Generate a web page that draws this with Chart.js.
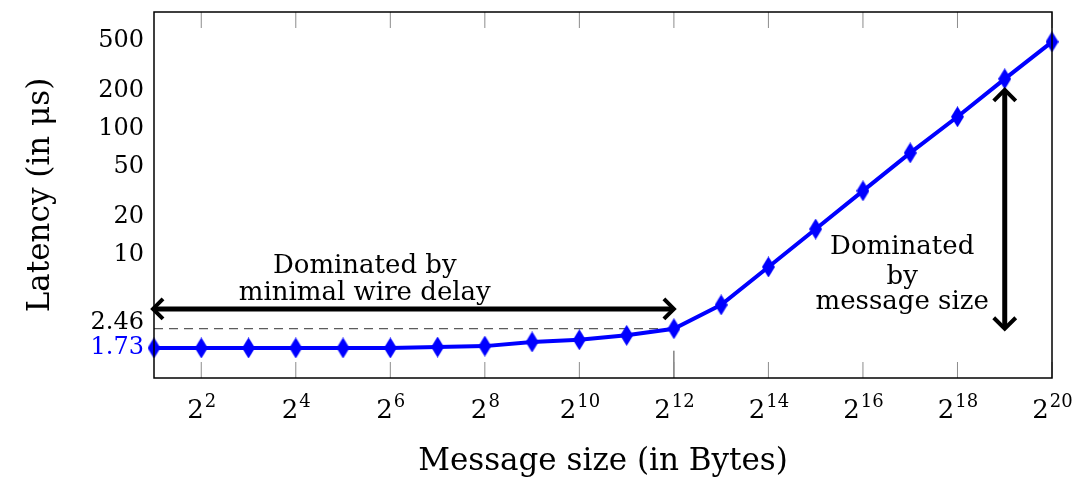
<!DOCTYPE html>
<html>
<head>
<meta charset="utf-8">
<script src="https://cdn.jsdelivr.net/npm/chart.js@4.4.0/dist/chart.umd.min.js"></script>
<style>
    html, body { margin: 0; padding: 0; background: #fff; }
    #wrap { width: 1086px; height: 481px; }
</style>
</head>
<body>
<div id="wrap"><canvas id="latencyChart" width="1086" height="481"></canvas></div>
<script>
// Message size is 2^n bytes, n below
const sizeExponents = [1, 2, 3, 4, 5, 6, 7, 8, 9, 10, 11, 12, 13, 14, 15, 16, 17, 18, 19, 20];
// Latency in microseconds
const latencyUs = [1.73, 1.73, 1.73, 1.73, 1.73, 1.73, 1.76, 1.79, 1.93, 2.01, 2.18, 2.46,
                   3.8, 7.6, 15.2, 30.5, 61, 118, 236, 464];
const xTickExponents = [2, 4, 6, 8, 10, 12, 14, 16, 18, 20];
const yTickValues = [1.73, 2.46, 10, 20, 50, 100, 200, 500];

const SERIF = '"DejaVu Serif", "Liberation Serif", serif';
const BLUE = '#0000ff';

// tall diamond marker
function makeDiamond(w, h) {
    const c = document.createElement('canvas');
    c.width = w; c.height = h;
    const g = c.getContext('2d');
    g.fillStyle = BLUE;
    g.beginPath();
    g.moveTo(w / 2, 0);
    g.lineTo(w, h / 2);
    g.lineTo(w / 2, h);
    g.lineTo(0, h / 2);
    g.closePath();
    g.fill();
    return c;
}

function arrowHead(ctx, x, y, dx, dy, len, half) {
    // chevron pointing in direction (dx, dy)
    const px = -dy, py = dx;
    ctx.beginPath();
    ctx.moveTo(x - dx * len + px * half, y - dy * len + py * half);
    ctx.lineTo(x, y);
    ctx.lineTo(x - dx * len - px * half, y - dy * len - py * half);
    ctx.stroke();
}

const overlay = {
    id: 'overlay',
    beforeDatasetsDraw(chart) {
        const { ctx, chartArea: a, scales: { x, y } } = chart;
        const yRef = y.getPixelForValue(2.46);
        const xRef = x.getPixelForValue(12);
        ctx.save();
        ctx.strokeStyle = '#333';
        ctx.lineWidth = 1;
        ctx.setLineDash([9, 6]);
        ctx.beginPath();
        ctx.moveTo(a.left, yRef);
        ctx.lineTo(xRef, yRef);
        ctx.stroke();
        ctx.setLineDash([]);
        ctx.strokeStyle = '#444';
        ctx.beginPath();
        ctx.moveTo(xRef, yRef + 22);
        ctx.lineTo(xRef, a.bottom);
        ctx.stroke();

        // x tick marks inside, top and bottom
        ctx.strokeStyle = '#8c8c8c';
        xTickExponents.forEach(n => {
            const px = x.getPixelForValue(n);
            ctx.beginPath();
            ctx.moveTo(px, a.bottom);
            ctx.lineTo(px, a.bottom - 16);
            ctx.moveTo(px, a.top);
            ctx.lineTo(px, a.top + 16);
            ctx.stroke();
        });
        ctx.restore();
    },
    afterDatasetsDraw(chart) {
        const { ctx, chartArea: a, scales: { x, y } } = chart;
        ctx.save();

        // frame
        ctx.strokeStyle = '#000';
        ctx.lineWidth = 1.5;
        ctx.strokeRect(a.left, a.top, a.right - a.left, a.bottom - a.top);

        // y tick labels (2.46 lifted so it clears 1.73)
        ctx.font = '24px ' + SERIF;
        ctx.textAlign = 'right';
        ctx.textBaseline = 'middle';
        yTickValues.forEach(v => {
            const shift = v === 2.46 ? -6 : (v === 1.73 ? 0 : 3);
            ctx.fillStyle = v === 1.73 ? BLUE : '#000';
            ctx.fillText(String(v), a.left - 10, y.getPixelForValue(v) + shift);
        });

        // x tick labels 2^n
        ctx.fillStyle = '#000';
        ctx.textBaseline = 'alphabetic';
        xTickExponents.forEach(n => {
            const px = x.getPixelForValue(n);
            ctx.font = '26px ' + SERIF;
            const wb = ctx.measureText('2').width;
            ctx.font = '18px ' + SERIF;
            const we = ctx.measureText(String(n)).width;
            const left = px - (wb + we) / 2;
            ctx.font = '26px ' + SERIF;
            ctx.textAlign = 'left';
            ctx.fillText('2', left, 418);
            ctx.font = '18px ' + SERIF;
            ctx.fillText(String(n), left + wb + 1, 407);
        });

        // arrows
        ctx.strokeStyle = '#000';
        ctx.lineWidth = 5;
        ctx.lineJoin = 'miter';
        ctx.lineCap = 'butt';
        const ha = y.getPixelForValue(3.53);
        const hx1 = x.getPixelForValue(1) - 1, hx2 = x.getPixelForValue(12);
        ctx.beginPath();
        ctx.moveTo(hx1 + 2, ha);
        ctx.lineTo(hx2 - 2, ha);
        ctx.stroke();
        ctx.lineWidth = 4;
        arrowHead(ctx, hx1, ha, -1, 0, 10, 10);
        arrowHead(ctx, hx2, ha, 1, 0, 10, 10);

        const vx = x.getPixelForValue(19);
        const vy1 = y.getPixelForValue(193), vy2 = y.getPixelForValue(2.46);
        ctx.lineWidth = 5;
        ctx.beginPath();
        ctx.moveTo(vx, vy1 + 2);
        ctx.lineTo(vx, vy2 - 2);
        ctx.stroke();
        ctx.lineWidth = 4;
        arrowHead(ctx, vx, vy1, 0, -1, 11, 11);
        arrowHead(ctx, vx, vy2, 0, 1, 11, 11);

        // annotation texts
        ctx.fillStyle = '#000';
        ctx.font = '26px ' + SERIF;
        ctx.textAlign = 'center';
        ctx.textBaseline = 'middle';
        ctx.fillText('Dominated by', x.getPixelForValue(5.46), y.getPixelForValue(7.74));
        ctx.fillText('minimal wire delay', x.getPixelForValue(5.46), y.getPixelForValue(4.73));
        ctx.fillText('Dominated', x.getPixelForValue(16.83), y.getPixelForValue(10.8));
        ctx.fillText('by', x.getPixelForValue(16.83), y.getPixelForValue(6.33));
        ctx.fillText('message size', x.getPixelForValue(16.83), y.getPixelForValue(4.01));
        ctx.restore();
    }
};

const ctx = document.getElementById('latencyChart').getContext('2d');
new Chart(ctx, {
    type: 'line',
    data: {
        datasets: [{
            data: sizeExponents.map((n, i) => ({ x: n, y: latencyUs[i] })),
            borderColor: BLUE,
            backgroundColor: BLUE,
            borderWidth: 4,
            pointStyle: makeDiamond(13, 21),
            pointRadius: 8,
            tension: 0,
            clip: false
        }]
    },
    options: {
        responsive: false,
        animation: false,
        devicePixelRatio: 1,
        layout: { padding: { left: 0, top: 12, right: 34, bottom: 0 } },
        plugins: {
            legend: { display: false },
            tooltip: { enabled: false }
        },
        scales: {
            x: {
                type: 'linear',
                min: 1,
                max: 20,
                grid: { display: false, drawTicks: false },
                border: { display: false },
                ticks: { display: false },
                afterFit(scale) {
                    scale.height = 103;
                    scale.paddingLeft = 0;
                    scale.paddingRight = 0;
                },
                title: {
                    display: true,
                    text: 'Message size (in Bytes)',
                    color: '#000',
                    font: { family: SERIF, size: 31 },
                    padding: { top: 0, bottom: 0 }
                }
            },
            y: {
                type: 'logarithmic',
                min: 1,
                max: 800,
                grid: { display: false, drawTicks: false },
                border: { display: false },
                ticks: { display: false },
                afterFit(scale) {
                    scale.width = 154;
                    scale.paddingTop = 0;
                    scale.paddingBottom = 0;
                },
                title: {
                    display: true,
                    text: 'Latency (in \u03bcs)',
                    color: '#000',
                    font: { family: SERIF, size: 31 },
                    padding: { top: 22, bottom: 0 }
                }
            }
        }
    },
    plugins: [overlay]
});
</script>
</body>
</html>
